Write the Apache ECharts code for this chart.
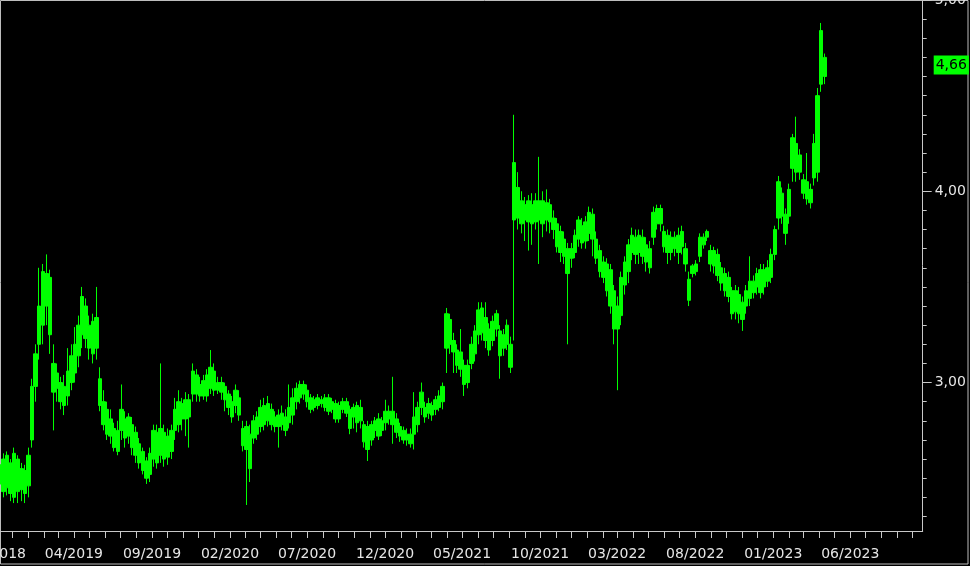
<!DOCTYPE html>
<html><head><meta charset="utf-8">
<script src="https://cdn.jsdelivr.net/npm/echarts@6/dist/echarts.min.js"></script>
<style>html,body{margin:0;padding:0;background:#000;}#c{width:970px;height:566px;}</style>
</head><body><div id="c"></div>
<script>
// ---- data ----
const axisFirstDay = '2018-11-01';
const axisLastDay = '2023-10-21';
const firstWeek = '2018-11-07'; // bars are weekly, starting here
const labelMonths = ['2018-11','2019-04','2019-09','2020-02','2020-07','2020-12','2021-05','2021-10','2022-03','2022-08','2023-01','2023-06'];
const minorTicks = [2.3,2.4,2.5,2.6,2.7,2.8,2.9,3.0,3.1,3.2,3.3,3.4,3.5,3.6,3.7,3.8,3.9,4.0,4.1,4.2,4.3,4.4,4.5,4.6,4.7,4.8,4.9,5.0];
const majorTicks = [3, 4, 5];
const lastPrice = 4.66;

const bodyLow = [2.47,2.43,2.45,2.42,2.40,2.43,2.44,2.42,2.46,2.70,2.98,3.20,3.30,3.40,3.25,2.95,2.97,2.90,2.88,2.93,
3.00,3.05,3.14,3.25,3.23,3.18,3.15,3.18,2.88,2.78,2.73,2.72,2.66,2.64,2.75,2.71,2.72,2.66,2.62,2.58,
2.54,2.50,2.52,2.60,2.58,2.62,2.60,2.61,2.64,2.75,2.78,2.81,2.81,2.82,2.94,2.94,2.93,2.93,2.93,2.97,
2.96,2.96,2.95,2.91,2.87,2.82,2.88,2.83,2.67,2.65,2.55,2.71,2.73,2.77,2.78,2.80,2.78,2.77,2.77,2.78,
2.75,2.79,2.83,2.90,2.92,2.94,2.90,2.86,2.87,2.88,2.89,2.87,2.85,2.86,2.81,2.81,2.86,2.84,2.76,2.82,
2.79,2.80,2.69,2.65,2.70,2.75,2.72,2.75,2.79,2.81,2.78,2.74,2.72,2.70,2.70,2.68,2.73,2.78,2.87,2.82,
2.84,2.83,2.86,2.87,2.90,3.18,3.20,3.16,3.09,3.07,2.99,3.00,3.10,3.15,3.25,3.26,3.22,3.17,3.22,3.28,
3.14,3.18,3.20,3.08,3.85,3.86,3.83,3.85,3.84,3.83,3.84,3.85,3.83,3.85,3.84,3.80,3.71,3.68,3.66,3.57,
3.65,3.68,3.75,3.73,3.74,3.78,3.75,3.65,3.58,3.55,3.48,3.40,3.28,3.28,3.35,3.51,3.58,3.68,3.67,3.68,
3.66,3.63,3.60,3.76,3.83,3.83,3.71,3.68,3.68,3.70,3.68,3.71,3.62,3.43,3.57,3.58,3.66,3.72,3.76,3.62,
3.61,3.56,3.52,3.48,3.45,3.36,3.37,3.36,3.33,3.40,3.44,3.47,3.50,3.47,3.50,3.53,3.55,3.67,3.86,3.87,
3.78,3.87,4.12,4.10,4.10,3.99,3.96,3.94,4.07,4.10,4.56,4.60];
const bodyHigh = [2.57,2.60,2.62,2.58,2.63,2.60,2.55,2.54,2.62,2.98,3.15,3.40,3.58,3.57,3.55,3.10,3.05,3.00,2.98,3.06,
3.14,3.20,3.30,3.45,3.40,3.30,3.32,3.34,3.02,2.90,2.86,2.81,2.76,2.75,2.86,2.81,2.82,2.78,2.74,2.68,
2.64,2.59,2.63,2.75,2.74,2.76,2.74,2.72,2.75,2.86,2.90,2.89,2.91,2.91,3.06,3.04,2.99,3.01,3.04,3.08,
3.06,3.00,3.00,2.98,2.94,2.90,2.96,2.92,2.76,2.77,2.73,2.80,2.82,2.87,2.88,2.89,2.86,2.82,2.83,2.84,
2.82,2.87,2.92,2.97,2.99,2.99,2.96,2.92,2.91,2.92,2.91,2.92,2.92,2.90,2.89,2.88,2.90,2.90,2.86,2.87,
2.88,2.87,2.78,2.77,2.78,2.80,2.81,2.80,2.85,2.85,2.85,2.81,2.77,2.75,2.73,2.73,2.82,2.87,2.95,2.87,
2.89,2.88,2.91,2.93,2.98,3.36,3.33,3.22,3.17,3.16,3.09,3.09,3.20,3.27,3.38,3.39,3.34,3.28,3.32,3.36,
3.27,3.25,3.30,3.20,4.15,4.02,3.95,3.93,3.95,3.93,3.95,3.95,3.95,3.94,3.93,3.86,3.83,3.79,3.75,3.70,
3.70,3.77,3.85,3.82,3.84,3.89,3.88,3.75,3.69,3.63,3.62,3.59,3.48,3.40,3.55,3.63,3.72,3.77,3.76,3.77,
3.76,3.72,3.70,3.89,3.91,3.91,3.79,3.77,3.76,3.76,3.77,3.79,3.70,3.54,3.61,3.62,3.76,3.76,3.79,3.69,
3.69,3.67,3.60,3.57,3.55,3.48,3.48,3.46,3.42,3.48,3.53,3.53,3.57,3.59,3.59,3.60,3.67,3.80,4.05,3.99,
3.88,4.01,4.28,4.25,4.19,4.06,4.05,4.01,4.25,4.50,4.84,4.70];
const wickLow = [2.42,2.40,2.41,2.38,2.37,2.37,2.38,2.37,2.40,2.66,2.90,3.12,3.20,3.30,3.15,2.75,2.90,2.86,2.83,2.88,
2.96,3.00,3.08,3.18,3.18,3.12,3.10,3.12,2.85,2.75,2.70,2.68,2.64,2.62,2.70,2.66,2.68,2.62,2.58,2.55,
2.52,2.47,2.48,2.56,2.55,2.58,2.56,2.57,2.60,2.70,2.74,2.75,2.72,2.66,2.90,2.90,2.90,2.91,2.90,2.94,
2.93,2.94,2.91,2.85,2.83,2.79,2.84,2.80,2.64,2.36,2.48,2.68,2.70,2.74,2.75,2.77,2.75,2.74,2.66,2.75,
2.72,2.76,2.78,2.86,2.89,2.91,2.87,2.84,2.85,2.86,2.87,2.85,2.83,2.84,2.79,2.79,2.84,2.82,2.73,2.76,
2.74,2.76,2.66,2.59,2.67,2.71,2.70,2.72,2.75,2.78,2.68,2.71,2.69,2.68,2.67,2.66,2.65,2.74,2.83,2.79,
2.81,2.80,2.83,2.85,2.86,3.05,3.15,3.05,3.05,3.03,2.93,2.97,3.07,3.11,3.20,3.22,3.18,3.14,3.19,3.24,
3.02,3.14,3.17,3.05,3.22,3.80,3.78,3.74,3.69,3.72,3.80,3.62,3.76,3.79,3.78,3.75,3.68,3.63,3.62,3.20,
3.60,3.65,3.71,3.70,3.70,3.74,3.66,3.62,3.55,3.52,3.45,3.36,3.20,2.96,3.30,3.46,3.52,3.64,3.62,3.62,
3.62,3.58,3.57,3.72,3.80,3.79,3.68,3.62,3.64,3.66,3.62,3.67,3.58,3.40,3.55,3.56,3.63,3.70,3.74,3.58,
3.57,3.53,3.48,3.45,3.42,3.33,3.33,3.31,3.27,3.36,3.40,3.44,3.46,3.44,3.46,3.50,3.52,3.64,3.80,3.83,
3.72,3.83,4.05,4.05,4.06,3.96,3.93,3.91,4.03,4.05,4.52,4.56];
const wickHigh = [2.72,2.63,2.64,2.60,2.66,2.62,2.58,2.57,2.66,3.02,3.20,3.60,3.62,3.67,3.59,3.20,3.10,3.03,3.04,3.18,
3.20,3.29,3.35,3.50,3.44,3.35,3.36,3.50,3.08,2.96,2.90,2.86,2.79,2.80,2.99,2.85,2.84,2.82,2.77,2.71,
2.66,2.61,2.66,2.78,2.78,3.10,2.78,2.76,2.78,2.92,2.96,2.92,2.95,2.94,3.10,3.07,3.03,3.04,3.07,3.17,
3.10,3.03,3.03,3.00,2.96,2.93,2.99,2.96,2.80,2.80,2.78,2.83,2.85,2.91,2.92,2.93,2.89,2.85,2.86,2.88,
2.86,2.99,2.97,3.00,3.01,3.01,2.99,2.94,2.93,2.94,2.93,2.94,2.94,2.92,2.91,2.90,2.92,2.92,2.88,2.89,
2.90,2.91,2.80,2.80,2.80,2.82,2.84,2.82,2.91,2.88,3.03,2.84,2.79,2.77,2.76,2.76,2.95,2.90,3.00,2.90,
2.92,2.90,2.93,2.96,3.00,3.39,3.36,3.26,3.20,3.28,3.12,3.12,3.24,3.30,3.42,3.42,3.42,3.31,3.35,3.38,
3.30,3.28,3.33,3.24,4.40,4.10,4.00,3.97,3.98,3.99,3.99,4.18,4.00,4.01,3.96,3.90,3.86,3.82,3.79,3.73,
3.73,3.80,3.87,3.86,3.87,3.92,3.91,3.79,3.72,3.66,3.65,3.62,3.51,3.45,3.58,3.66,3.75,3.81,3.80,3.80,
3.80,3.76,3.74,3.92,3.93,3.93,3.82,3.80,3.79,3.79,3.81,3.82,3.73,3.58,3.62,3.64,3.78,3.78,3.80,3.72,
3.71,3.70,3.63,3.60,3.58,3.50,3.51,3.50,3.45,3.51,3.66,3.56,3.60,3.62,3.62,3.64,3.70,3.82,4.08,4.02,
3.91,4.04,4.30,4.39,4.22,4.09,4.20,4.04,4.30,4.54,4.88,4.72];

// ---- build ----
const DAY = 86400000;
function parse(s){ const p = s.split('-'); return Date.UTC(+p[0], +p[1]-1, +p[2]); }
function fmt(t){ return new Date(t).toISOString().slice(0,10); }
const days = [];
for (let t = parse(axisFirstDay); t <= parse(axisLastDay); t += DAY) days.push(fmt(t));
const bars = bodyLow.map((v, i) => [fmt(parse(firstWeek) + i * 7 * DAY), v, bodyHigh[i], wickLow[i], wickHigh[i]]);

const GREEN = '#00ff00';
const GRAY = '#c8c8c8';
const FONT = 'DejaVu Sans';
const yMin = 2.224, yMax = 5.0;
const comma = v => v.toFixed(2).replace('.', ',');

const chart = echarts.init(document.getElementById('c'), null, {renderer: 'canvas'});
chart.setOption({
  backgroundColor: '#000',
  animation: false,
  grid: {left: -3.1, right: 47.3, top: 0, bottom: 35, containLabel: false, outerBoundsMode: 'none'},
  xAxis: {
    type: 'category', data: days, boundaryGap: false,
    axisLine: {show: true, lineStyle: {color: GRAY, width: 1}},
    axisTick: {show: true, length: 7, interval: (i, v) => v.slice(8) === '01', lineStyle: {color: GRAY}},
    axisLabel: {
      interval: (i, v) => v.slice(8) === '01' && labelMonths.includes(v.slice(0, 7)),
      formatter: v => v.slice(5, 7) + '/' + v.slice(0, 4),
      color: '#e6e6e6', fontFamily: FONT, fontSize: 14, margin: 16, hideOverlap: false
    },
    splitLine: {show: false}
  },
  yAxis: [
    {type: 'value', position: 'right', min: yMin, max: yMax, scale: true,
     axisLine: {show: true, lineStyle: {color: GRAY}},
     axisTick: {show: true, length: 4, customValues: minorTicks, lineStyle: {color: GRAY}},
     axisLabel: {show: false}, splitLine: {show: false}},
    {type: 'value', position: 'right', min: yMin, max: yMax, scale: true,
     axisLine: {show: false},
     axisTick: {show: true, length: 9, customValues: majorTicks, lineStyle: {color: GRAY}},
     axisLabel: {show: true, customValues: majorTicks, formatter: comma, color: '#e6e6e6',
                 fontFamily: FONT, fontSize: 14, margin: 12},
     splitLine: {show: false}},
    {type: 'value', position: 'right', min: yMin, max: yMax, scale: true,
     axisLine: {show: false}, axisTick: {show: false},
     axisLabel: {show: true, customValues: [lastPrice], formatter: comma, color: '#000',
                 backgroundColor: GREEN, padding: [3, 2, 2, 2],
                 fontFamily: FONT, fontSize: 14, margin: 11},
     splitLine: {show: false}}
  ],
  series: [{
    type: 'candlestick', data: bars, encode: {x: 0, y: [1, 2, 3, 4]},
    xAxisIndex: 0, yAxisIndex: 0, barWidth: 4,
    itemStyle: {color: GREEN, color0: GREEN, borderColor: GREEN, borderColor0: GREEN, borderWidth: 1},
    emphasis: {disabled: true}
  }],
  graphic: [
    {type: 'rect', silent: true, shape: {x: 0.5, y: 0.5, width: 967.5, height: 563.5},
     style: {fill: 'none', stroke: '#bdbdbd', lineWidth: 1}}
  ]
});
</script></body></html>
